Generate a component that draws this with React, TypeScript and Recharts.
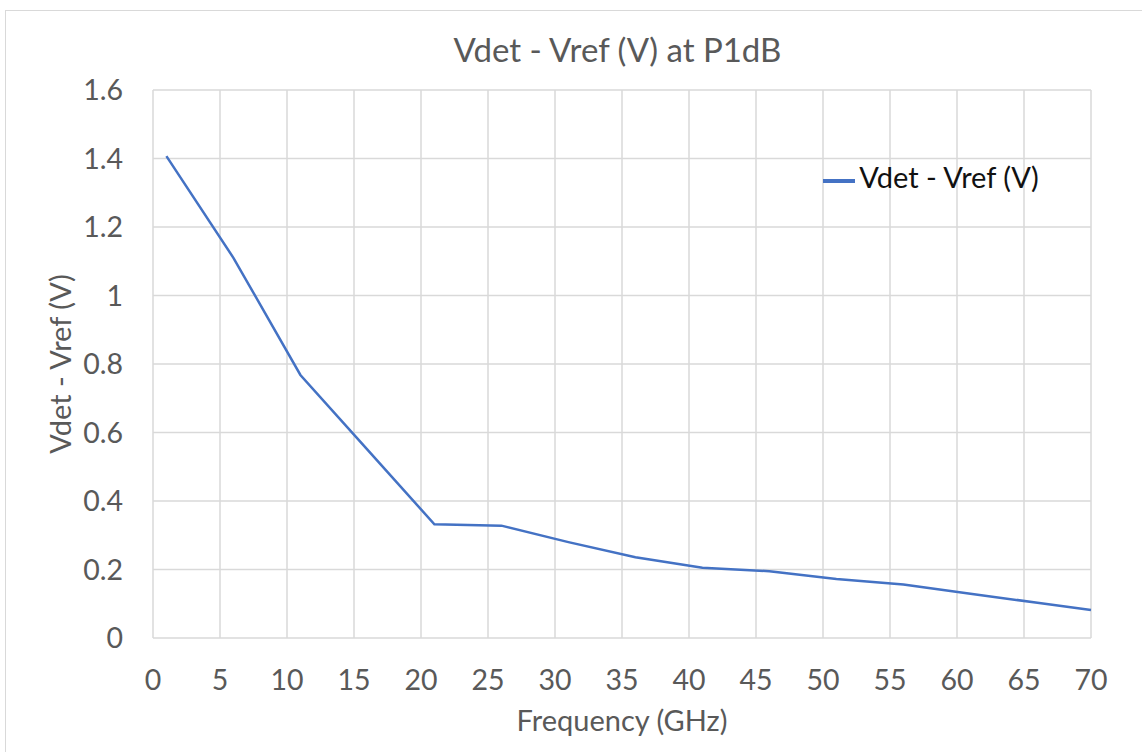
import React from 'react';
import { LineChart, Line, XAxis, YAxis, CartesianGrid, Legend } from 'recharts';

const frequencies = [1, 6, 11, 16, 21, 26, 31, 36, 41, 46, 51, 56, 61, 66, 70];
const vdetMinusVref = [1.407, 1.11, 0.768, 0.55, 0.332, 0.328, 0.28, 0.236, 0.205, 0.195, 0.172, 0.156, 0.129, 0.103, 0.082];
const xTicks = [0, 5, 10, 15, 20, 25, 30, 35, 40, 45, 50, 55, 60, 65, 70];
const yTicks = [0, 0.2, 0.4, 0.6, 0.8, 1, 1.2, 1.4, 1.6];
const title = 'Vdet - Vref (V) at P1dB';
const seriesName = 'Vdet - Vref (V)';
const xLabel = 'Frequency (GHz)';
const yLabel = 'Vdet - Vref (V)';

const data = frequencies.map((f, i) => ({ freq: f, v: vdetMinusVref[i] }));

const FONT = 'Lato, "Open Sans", sans-serif';
const GREY = '#595959';

export default function App() {
  return (
    <div style={{ position: 'absolute', left: 0, top: 0, width: 1142, height: 752, overflow: 'hidden', background: '#fff', fontFamily: FONT }}>
      <div style={{ position: 'absolute', left: 5, top: 10, width: 1160, height: 770, border: '1px solid #d9d9d9', boxSizing: 'border-box' }} />
      <div style={{ position: 'absolute', left: 0, top: 0 }}>
        <LineChart width={1142} height={752} data={data} margin={{ top: 90, right: 51, bottom: 54, left: 0 }}>
          <CartesianGrid stroke="#d9d9d9" strokeWidth={1.5} />
          <XAxis
            dataKey="freq"
            type="number"
            domain={[0, 70]}
            ticks={xTicks}
            axisLine={false}
            tickLine={false}
            tickSize={0}
            tickMargin={32}
            height={60}
            tick={{ fill: GREY, fontSize: 28.5, fontFamily: FONT }}
          />
          <YAxis
            type="number"
            domain={[0, 1.6]}
            ticks={yTicks}
            axisLine={false}
            tickLine={false}
            tickSize={0}
            tickMargin={30}
            width={153}
            tickFormatter={(v: number) => (v === 0 ? '0' : v === 1 ? '1' : v.toFixed(1))}
            tick={{ fill: GREY, fontSize: 28.5, fontFamily: FONT }}
          />
          <Legend
            layout="horizontal"
            verticalAlign="middle"
            align="center"
            iconSize={32}
            wrapperStyle={{ left: 796, top: 159, width: 280, fontFamily: FONT, fontSize: 29 }}
            formatter={(value: string) => <span style={{ color: '#111111' }}>{value}</span>}
          />
          <Line
            type="linear"
            dataKey="v"
            name={seriesName}
            stroke="#4472c4"
            strokeWidth={2.5}
            dot={false}
            activeDot={false}
            legendType="plainline"
            isAnimationActive={false}
          />
        </LineChart>
      </div>
      <div style={{ position: 'absolute', left: 0, width: 1235, top: 29, textAlign: 'center', fontSize: 33, color: GREY, lineHeight: '40px' }}>{title}</div>
      <div style={{ position: 'absolute', left: 0, width: 1244, top: 701, textAlign: 'center', fontSize: 29, color: GREY, lineHeight: '38px' }}>{xLabel}</div>
      <div style={{ position: 'absolute', left: 60 - 150, top: 364 - 19, width: 300, height: 38, textAlign: 'center', fontSize: 29, color: GREY, lineHeight: '38px', transform: 'rotate(-90deg)' }}>{yLabel}</div>
    </div>
  );
}
